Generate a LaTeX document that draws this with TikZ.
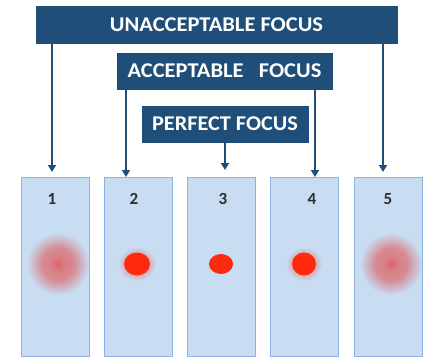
\documentclass[tikz,border=0pt]{standalone}
\usepackage{fontspec}
\setmainfont{Carlito}
\usetikzlibrary{arrows.meta,fadings}
\definecolor{navy}{HTML}{1F4E79}
\definecolor{panelfill}{HTML}{C8DCF2}
\definecolor{paneldraw}{HTML}{8DB3E2}
\definecolor{dotred}{HTML}{FF2A10}
\definecolor{blurred}{HTML}{E05A5A}
\definecolor{numcol}{HTML}{2E2E2E}
\tikzfading[name=softedge, inner color=transparent!0, outer color=transparent!100]
\pgfdeclareradialshading{blurshade}{\pgfpointorigin}{%
  color(0bp)=(pgftransparent!5); color(3bp)=(pgftransparent!20);
  color(7bp)=(pgftransparent!30); color(13bp)=(pgftransparent!38);
  color(20bp)=(pgftransparent!75); color(25bp)=(pgftransparent!100);
  color(50bp)=(pgftransparent!100)}
\pgfdeclarefading{blurfade}{\pgfuseshading{blurshade}}
\tikzset{
  banner/.style={fill=navy, draw=navy, text=white, inner sep=0pt, font=\bfseries\fontsize{21}{21}\selectfont},
  panel/.style={fill=panelfill, draw=paneldraw, line width=1pt, minimum width=68pt, minimum height=179pt, inner sep=0pt},
  numlabel/.style={text=numcol, font=\bfseries\fontsize{17}{17}\selectfont, inner sep=0pt},
  arr/.style={draw=navy, line width=2pt, -{Triangle[length=7pt,width=8pt]}},
  halo/.style={fill=blurred, path fading=blurfade}
}
\begin{document}
\begin{tikzpicture}[x=1pt,y=-1pt]
\useasboundingbox (0,0) rectangle (430,358);
% banners
\node[banner, minimum width=361pt, minimum height=37pt] (unacc) at (216.5,24.5)
  {\scalebox{1.07}[1]{UNACCEPTABLE FOCUS}};
\node[banner, minimum width=215pt, minimum height=36pt] (acc) at (224.5,71)
  {\scalebox{1.07}[1]{ACCEPTABLE\ \ \ FOCUS}};
\node[banner, minimum width=166pt, minimum height=36pt] (perf) at (225,124)
  {\scalebox{1.06}[1]{PERFECT FOCUS}};
% panels
\node[panel] (p1) at (55,266.5) {};
\node[panel] (p2) at (138,266.5) {};
\node[panel] (p3) at (221.5,266.5) {};
\node[panel] (p4) at (304,266.5) {};
\node[panel] (p5) at (388,266.5) {};
% numbers
\node[numlabel] (n1) at (52,199) {1};
\node[numlabel] (n2) at (134,199) {2};
\node[numlabel] (n3) at (223,199) {3};
\node[numlabel] (n4) at (312,199) {4};
\node[numlabel] (n5) at (388,199) {5};
% arrow end points
\coordinate (a1) at (52,172);
\coordinate (a2) at (126,177);
\coordinate (a3) at (225,170);
\coordinate (a4) at (315,177);
\coordinate (a5) at (383,172);
\draw[arr] (unacc.south -| a1) -- (a1);
\draw[arr] (unacc.south -| a5) -- (a5);
\draw[arr] (acc.south -| a2) -- (a2);
\draw[arr] (acc.south -| a4) -- (a4);
\draw[arr] (perf.south -| a3) -- (a3);
% spots
\fill[halo] (58,264) circle (31pt);
\fill[halo] (391,264) circle (31pt);
\fill[dotred, opacity=0.7, path fading=softedge] (137,264) ellipse (19pt and 17pt);
\fill[dotred] (137,264) ellipse (13pt and 11.5pt);
\fill[dotred, opacity=0.7, path fading=softedge] (304,264) ellipse (18pt and 17pt);
\fill[dotred] (304,264) ellipse (12pt and 11.5pt);
\fill[dotred] (221,264) ellipse (12pt and 10pt);
\end{tikzpicture}
\end{document}
